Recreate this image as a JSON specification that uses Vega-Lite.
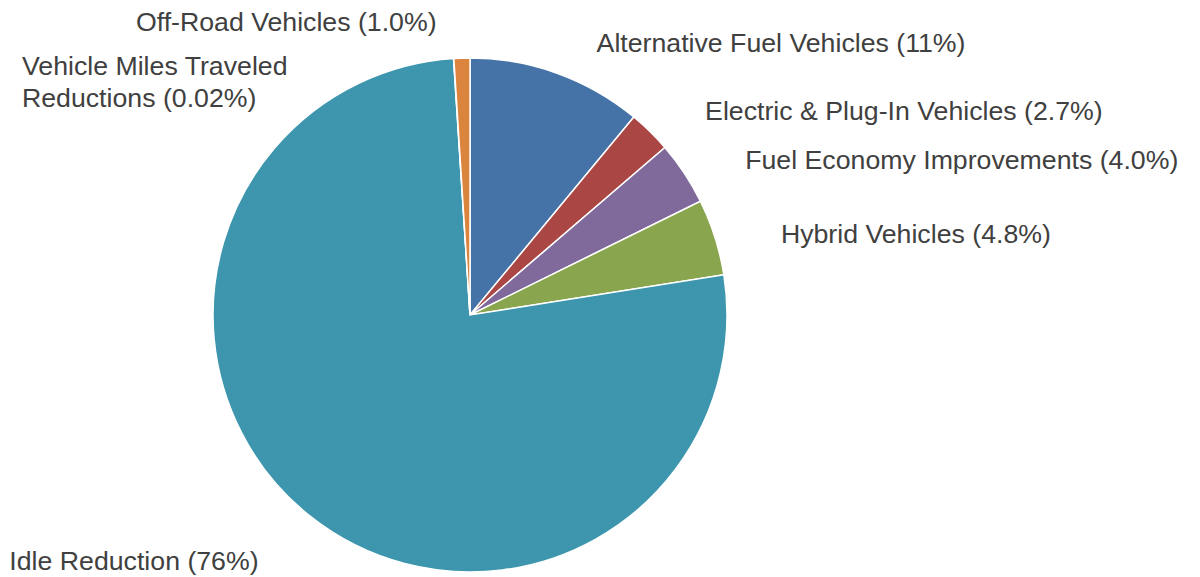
{
  "$schema": "https://vega.github.io/schema/vega-lite/v6.json",
  "autosize": {"type": "none"},
  "padding": {"left": 0, "top": 53, "right": 260, "bottom": 0},
  "width": 940,
  "height": 524,
  "background": "white",
  "config": {"view": {"stroke": null}},
  "data": {
    "values": [
      {"category": "Alternative Fuel Vehicles", "value": 11.0, "rank": 1, "label": "Alternative Fuel Vehicles (11%)"},
      {"category": "Electric & Plug-In Vehicles", "value": 2.7, "rank": 2, "label": "Electric & Plug-In Vehicles (2.7%)"},
      {"category": "Fuel Economy Improvements", "value": 4.0, "rank": 3, "label": "Fuel Economy Improvements (4.0%)"},
      {"category": "Hybrid Vehicles", "value": 4.8, "rank": 4, "label": "Hybrid Vehicles (4.8%)"},
      {"category": "Idle Reduction", "value": 76.48, "rank": 5, "label": "Idle Reduction (76%)"},
      {"category": "Vehicle Miles Traveled Reductions", "value": 0.02, "rank": 6, "label": "Vehicle Miles Traveled\nReductions (0.02%)"},
      {"category": "Off-Road Vehicles", "value": 1.0, "rank": 7, "label": "Off-Road Vehicles (1.0%)"}
    ]
  },
  "layer": [
    {
      "mark": {"type": "arc", "outerRadius": 257, "stroke": "white", "strokeWidth": 1.5},
      "encoding": {
        "theta": {"field": "value", "type": "quantitative", "stack": true},
        "order": {"field": "rank", "type": "quantitative"},
        "color": {
          "field": "category",
          "type": "nominal",
          "legend": null,
          "scale": {
            "domain": ["Alternative Fuel Vehicles", "Electric & Plug-In Vehicles", "Fuel Economy Improvements", "Hybrid Vehicles", "Idle Reduction", "Vehicle Miles Traveled Reductions", "Off-Road Vehicles"],
            "range": ["#4572A7", "#AA4643", "#80699B", "#89A54E", "#3D96AE", "#92A8CD", "#DB843D"]
          }
        }
      }
    },
    {
      "mark": {"type": "text", "radius": 300, "align": "left", "baseline": "middle", "dx": 25, "dy": 11, "font": "Liberation Sans", "fontSize": 26.7, "color": "#404040"},
      "encoding": {
        "theta": {"field": "value", "type": "quantitative", "stack": true},
        "order": {"field": "rank", "type": "quantitative"},
        "text": {
          "condition": {"test": "indexof(['Alternative Fuel Vehicles','Electric & Plug-In Vehicles','Fuel Economy Improvements','Hybrid Vehicles'], datum.category) >= 0", "field": "label"},
          "value": ""
        }
      }
    },
    {
      "mark": {"type": "text", "radius": 300, "align": "right", "baseline": "middle", "dx": -24, "dy": 8, "font": "Liberation Sans", "fontSize": 26.7, "color": "#404040"},
      "encoding": {
        "theta": {"field": "value", "type": "quantitative", "stack": true},
        "order": {"field": "rank", "type": "quantitative"},
        "text": {
          "condition": {"test": "datum.category === 'Off-Road Vehicles'", "field": "label"},
          "value": ""
        }
      }
    },
    {
      "mark": {"type": "text", "radius": 300, "align": "right", "baseline": "middle", "dx": -24, "dy": 13, "font": "Liberation Sans", "fontSize": 26.7, "color": "#404040"},
      "encoding": {
        "theta": {"field": "value", "type": "quantitative", "stack": true},
        "order": {"field": "rank", "type": "quantitative"},
        "text": {
          "condition": {"test": "datum.category === 'Idle Reduction'", "field": "label"},
          "value": ""
        }
      }
    },
    {
      "mark": {"type": "text", "radius": 300, "align": "left", "baseline": "top", "dx": -429, "dy": 38, "lineBreak": "\n", "lineHeight": 32, "font": "Liberation Sans", "fontSize": 26.7, "color": "#404040"},
      "encoding": {
        "theta": {"field": "value", "type": "quantitative", "stack": true},
        "order": {"field": "rank", "type": "quantitative"},
        "text": {
          "condition": {"test": "datum.category === 'Vehicle Miles Traveled Reductions'", "field": "label"},
          "value": ""
        }
      }
    }
  ]
}
